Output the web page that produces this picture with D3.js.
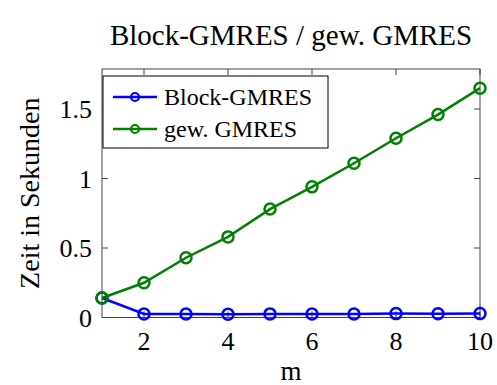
<!DOCTYPE html>
<html>
<head>
<meta charset="utf-8">
<script src="https://cdn.jsdelivr.net/npm/d3@7"></script>
<style>
  body { margin: 0; background: #fff; }
  text { font-family: "Liberation Serif", "DejaVu Serif", serif; fill: #000; }
</style>
</head>
<body>
<svg id="chart" width="497" height="385"></svg>
<script>
// data
const mValues = [1, 2, 3, 4, 5, 6, 7, 8, 9, 10];
const blockGmres = [0.14, 0.025, 0.025, 0.024, 0.026, 0.025, 0.025, 0.028, 0.027, 0.028];
const gewGmres = [0.14, 0.25, 0.43, 0.58, 0.78, 0.94, 1.11, 1.29, 1.46, 1.65];
const xTicks = [2, 4, 6, 8, 10];
const yTicks = [0, 0.5, 1, 1.5];
const seriesNames = ["Block-GMRES", "gew. GMRES"];
const seriesColors = ["#0000ff", "#008000"];

const svg = d3.select("#chart");
const pLeft = 102, pRight = 480, pTop = 69, pBottom = 317.5;

const x = d3.scaleLinear().domain([1, 10]).range([pLeft, pRight]);
const y = d3.scaleLinear().domain([0, 1.788]).range([pBottom, pTop]);

// frame
svg.append("rect")
  .attr("x", pLeft).attr("y", pTop)
  .attr("width", pRight - pLeft).attr("height", pBottom - pTop)
  .attr("fill", "none").attr("stroke", "#444").attr("stroke-width", 1);

const tickLen = 6;
// ticks inside, mirrored
const tickG = svg.append("g").attr("stroke", "#444").attr("stroke-width", 1);
xTicks.forEach(t => {
  tickG.append("line").attr("x1", x(t)).attr("x2", x(t)).attr("y1", pBottom).attr("y2", pBottom - tickLen);
  tickG.append("line").attr("x1", x(t)).attr("x2", x(t)).attr("y1", pTop).attr("y2", pTop + tickLen);
});
yTicks.forEach(t => {
  tickG.append("line").attr("x1", pLeft).attr("x2", pLeft + tickLen).attr("y1", y(t)).attr("y2", y(t));
  tickG.append("line").attr("x1", pRight).attr("x2", pRight - tickLen).attr("y1", y(t)).attr("y2", y(t));
});

// tick labels
svg.append("g").selectAll("text").data(xTicks).join("text")
  .attr("x", d => x(d)).attr("y", pBottom + 32)
  .attr("text-anchor", "middle").attr("font-size", 26)
  .text(d => d);
svg.append("g").selectAll("text").data(yTicks).join("text")
  .attr("x", pLeft - 10).attr("y", d => y(d) + 9)
  .attr("text-anchor", "end").attr("font-size", 26)
  .text(d => d);

// axis labels
svg.append("text").attr("x", (pLeft + pRight) / 2).attr("y", 380)
  .attr("text-anchor", "middle").attr("font-size", 27).text("m");
svg.append("text")
  .attr("transform", `translate(39, ${(pTop + pBottom) / 2}) rotate(-90)`)
  .attr("text-anchor", "middle").attr("font-size", 28).text("Zeit in Sekunden");

// title
svg.append("text").attr("x", 291).attr("y", 45)
  .attr("text-anchor", "middle").attr("font-size", 29).text("Block-GMRES / gew. GMRES");

// series
const series = [blockGmres, gewGmres];
const line = d3.line().x((d, i) => x(mValues[i])).y(d => y(d));
series.forEach((vals, k) => {
  const g = svg.append("g");
  g.append("path").attr("d", line(vals))
    .attr("fill", "none").attr("stroke", seriesColors[k]).attr("stroke-width", 2.5);
  g.selectAll("circle").data(vals).join("circle")
    .attr("cx", (d, i) => x(mValues[i])).attr("cy", d => y(d)).attr("r", 5.5)
    .attr("fill", "none").attr("stroke", seriesColors[k]).attr("stroke-width", 2.5);
});

// legend
const lg = svg.append("g");
lg.append("rect").attr("x", 103).attr("y", 76).attr("width", 225).attr("height", 72)
  .attr("fill", "#fff").attr("stroke", "#000").attr("stroke-width", 1);
seriesNames.forEach((name, k) => {
  const ly = 97 + k * 32;
  lg.append("line").attr("x1", 113).attr("x2", 157).attr("y1", ly).attr("y2", ly)
    .attr("stroke", seriesColors[k]).attr("stroke-width", 2.5);
  lg.append("circle").attr("cx", 135).attr("cy", ly).attr("r", 4)
    .attr("fill", "none").attr("stroke", seriesColors[k]).attr("stroke-width", 2.2);
  lg.append("text").attr("x", 164).attr("y", ly + 8).attr("font-size", 24).text(name);
});
</script>
</body>
</html>
